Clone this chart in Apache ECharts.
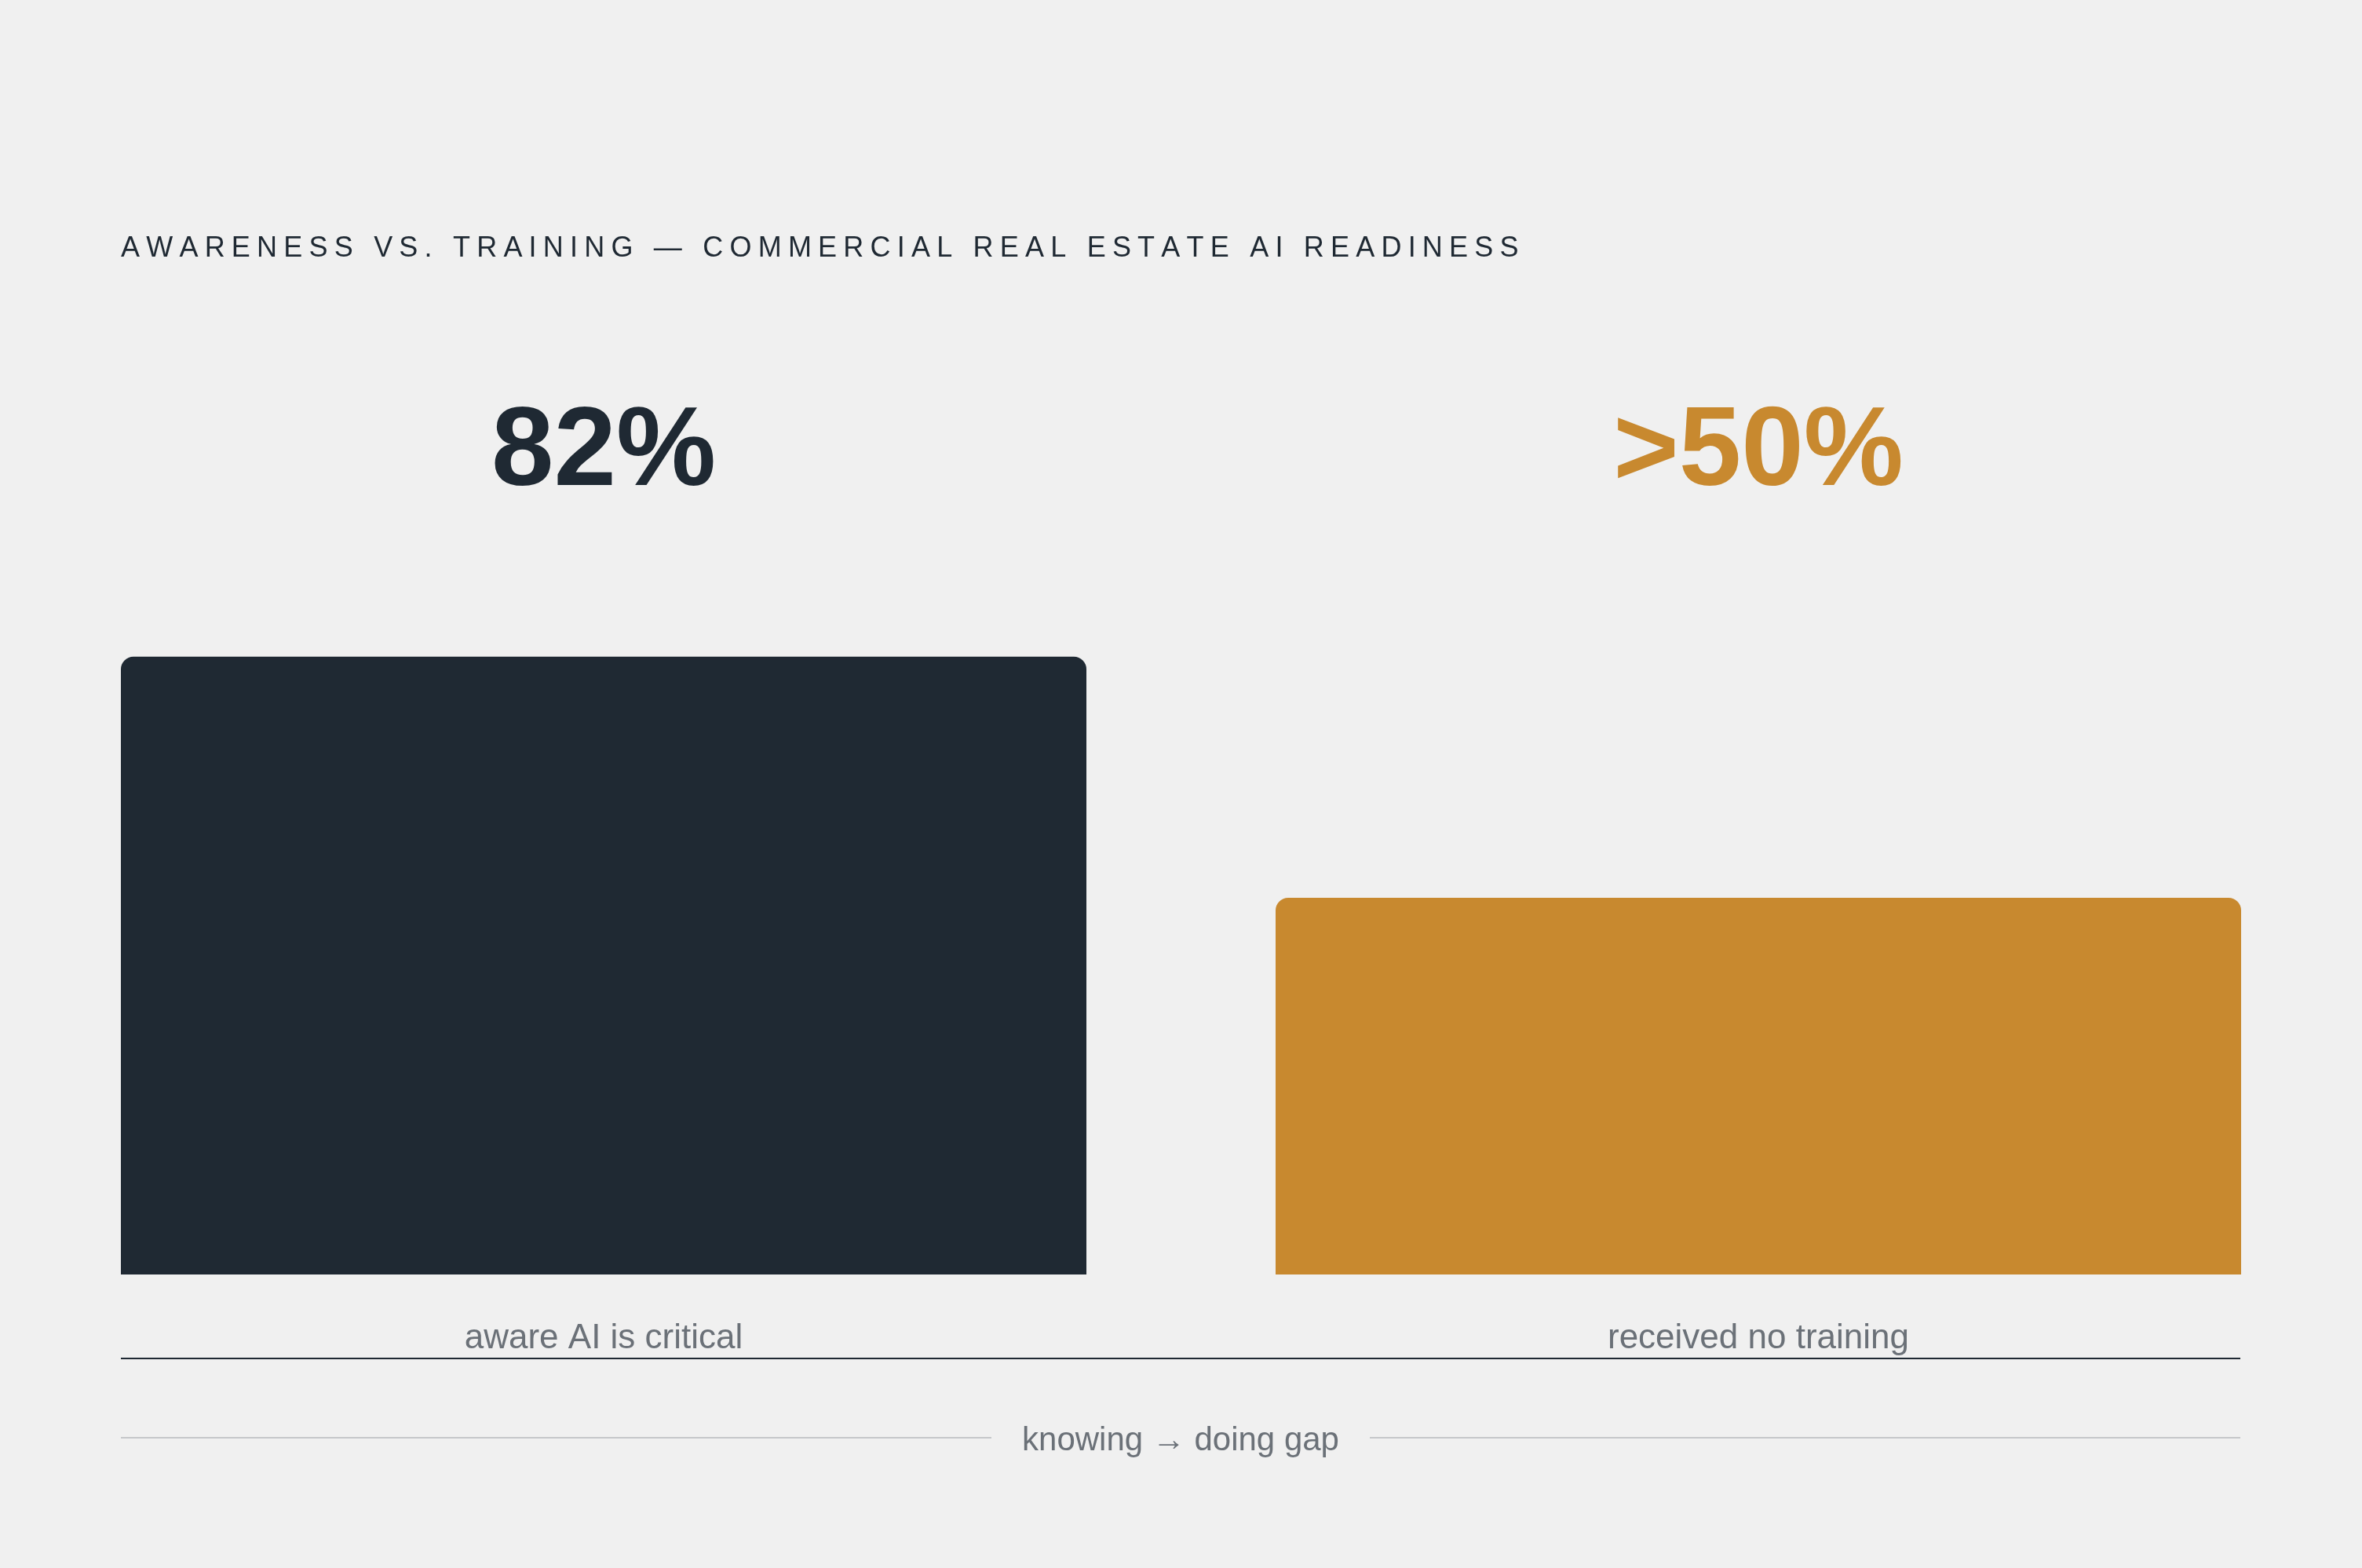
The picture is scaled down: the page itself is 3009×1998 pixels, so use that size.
<!DOCTYPE html>
<html>
<head>
<meta charset="utf-8">
<script src="https://cdn.jsdelivr.net/npm/echarts@6/dist/echarts.min.js"></script>
<style>
    html, body { margin: 0; padding: 0; background: #f0f0f0; }
    #main { width: 3009px; height: 1998px; }
</style>
</head>
<body>
<div id="main"></div>
<script>
const categories = ["aware AI is critical", "received no training"];
const values = [82, 50];
const valueLabels = ["82%", ">50%"];
const titleText = "AWARENESS VS. TRAINING — COMMERCIAL REAL ESTATE AI READINESS";
const footerText = "knowing → doing gap";

const palette = ["#1f2933", "#c8892f"];
const font = "Liberation Sans, Arial, sans-serif";

// tracking for the title: a slightly enlarged thin space between letters
function spaced(str) {
    return str.split("").join("{sp|\u2009}");
}

const chart = echarts.init(document.getElementById("main"));
const option = {
    backgroundColor: "#f0f0f0",
    animation: false,
    title: {
        text: spaced(titleText),
        left: 154,
        top: 299,
        padding: 0,
        textStyle: {
            fontFamily: font,
            fontSize: 36,
            fontWeight: "normal",
            color: "#1f2933",
            rich: {
                sp: { fontFamily: font, fontSize: 41, lineHeight: 36 },
            },
        },
    },
    grid: { left: 33.5, right: 33.5, top: 664, bottom: 374 },
    xAxis: [
        {
            type: "category",
            position: "bottom",
            data: categories,
            axisLine: { show: false },
            axisTick: { show: false },
            axisLabel: {
                margin: 60,
                fontFamily: font,
                fontSize: 44,
                color: "#6b7178",
            },
        },
        {
            type: "category",
            position: "top",
            data: valueLabels,
            axisLine: { show: false },
            axisTick: { show: false },
            axisLabel: {
                margin: 14,
                fontFamily: font,
                fontSize: 143,
                fontWeight: "bold",
                color: function (value, index) {
                    return palette[index];
                },
            },
        },
    ],
    yAxis: { type: "value", min: 0, max: 100, show: false },
    series: [
        {
            type: "bar",
            xAxisIndex: 0,
            barWidth: 1230,
            data: values.map((v, i) => ({
                value: v,
                itemStyle: { color: palette[i], borderRadius: [16, 16, 0, 0] },
            })),
        },
    ],
    graphic: [
        {
            type: "line",
            shape: { x1: 154, y1: 1731, x2: 2854, y2: 1731 },
            style: { stroke: "#1f2933", lineWidth: 2 },
        },
        {
            type: "line",
            shape: { x1: 154, y1: 1832, x2: 1263, y2: 1832 },
            style: { stroke: "#c5c7ca", lineWidth: 2 },
        },
        {
            type: "line",
            shape: { x1: 1745, y1: 1832, x2: 2854, y2: 1832 },
            style: { stroke: "#c5c7ca", lineWidth: 2 },
        },
        {
            type: "text",
            x: 1504,
            y: 1836,
            style: {
                text: footerText,
                align: "center",
                verticalAlign: "middle",
                fontFamily: font,
                fontSize: 42,
                fill: "#6b7178",
            },
        },
    ],
};
chart.setOption(option);
window.addEventListener("resize", function () {
    chart.resize();
});
</script>
</body>
</html>
